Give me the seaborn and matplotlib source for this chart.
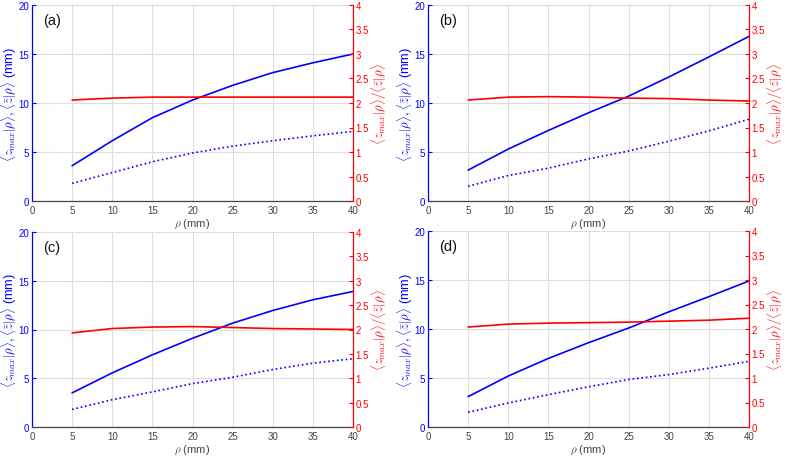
import matplotlib
matplotlib.use("Agg")
import matplotlib.pyplot as plt
import seaborn as sns
import pandas as pd

rho = [5, 10, 15, 20, 25, 30, 35, 40]
panel_labels = ["(a)", "(b)", "(c)", "(d)"]

zmax_a = [3.6, 6.15, 8.5, 10.3, 11.8, 13.1, 14.1, 15.0]
zbar_a = [1.8, 2.9, 4.0, 4.9, 5.6, 6.15, 6.65, 7.1]
ratio_a = [2.06, 2.10, 2.12, 2.12, 2.12, 2.12, 2.12, 2.12]

zmax_b = [3.15, 5.3, 7.2, 9.0, 10.7, 12.65, 14.7, 16.8]
zbar_b = [1.5, 2.6, 3.35, 4.3, 5.1, 6.1, 7.15, 8.35]
ratio_b = [2.06, 2.12, 2.13, 2.12, 2.10, 2.09, 2.06, 2.04]

zmax_c = [3.5, 5.55, 7.4, 9.1, 10.65, 11.95, 13.05, 13.9]
zbar_c = [1.8, 2.8, 3.6, 4.45, 5.1, 5.9, 6.55, 7.0]
ratio_c = [1.93, 2.02, 2.05, 2.06, 2.04, 2.02, 2.01, 2.0]

zmax_d = [3.1, 5.2, 7.0, 8.6, 10.1, 11.75, 13.3, 14.9]
zbar_d = [1.5, 2.45, 3.3, 4.1, 4.85, 5.35, 6.0, 6.7]
ratio_d = [2.04, 2.10, 2.12, 2.13, 2.14, 2.16, 2.18, 2.22]

x_ticks = [0, 5, 10, 15, 20, 25, 30, 35, 40]
left_ticks = [0, 5, 10, 15, 20]
right_ticks = [0, 0.5, 1, 1.5, 2, 2.5, 3, 3.5, 4]
right_ticklabels = ["0", "0.5", "1", "1.5", "2", "2.5", "3", "3.5", "4"]

sns.set_style("white")
plt.rcParams['font.family'] = ['Liberation Sans', 'DejaVu Sans']
plt.rcParams['mathtext.fontset'] = 'cm'

BLUE = "#0000ff"
RED = "#ff0000"
GRAY = "#444444"

fig = plt.figure(figsize=(7.85, 4.6), dpi=100)

positions = [
    (32 / 785, 1 - 202 / 460, 321 / 785, 196 / 460),
    (428 / 785, 1 - 202 / 460, 321 / 785, 196 / 460),
    (32 / 785, 1 - 428 / 460, 321 / 785, 195 / 460),
    (428 / 785, 1 - 428 / 460, 321 / 785, 196 / 460),
]
data = [
    (zmax_a, zbar_a, ratio_a),
    (zmax_b, zbar_b, ratio_b),
    (zmax_c, zbar_c, ratio_c),
    (zmax_d, zbar_d, ratio_d),
]

for pos, (zmax, zbar, ratio), lab in zip(positions, data, panel_labels):
    ax = fig.add_axes(pos)
    df = pd.DataFrame({"rho": rho, "zmax": zmax, "zbar": zbar, "ratio": ratio})
    sns.lineplot(data=df, x="rho", y="zmax", ax=ax, color=BLUE, lw=1.2)
    sns.lineplot(data=df, x="rho", y="zbar", ax=ax, color=BLUE, lw=1.2, linestyle=":")
    ax.set_xlim(0, 40)
    ax.set_ylim(0, 20)
    ax.set_xticks(x_ticks)
    ax.set_yticks(left_ticks)
    ax.grid(True, color="#dddddd", lw=0.8)
    ax.set_axisbelow(True)
    ax.tick_params(axis="x", direction="in", length=3, colors=GRAY, labelsize=7, pad=3)
    ax.tick_params(axis="y", direction="in", length=3, colors=BLUE, labelsize=7, pad=2)
    ax.spines["left"].set_color(BLUE)
    ax.spines["bottom"].set_color(GRAY)
    ax.spines["top"].set_visible(False)
    ax.spines["right"].set_visible(False)
    for s in ax.spines.values():
        s.set_linewidth(0.9)
    ax.set_xlabel(r"$\rho$ (mm)", fontsize=8, color=GRAY, labelpad=1)
    ax.set_ylabel(r"$\langle z_{max}|\rho\rangle, \langle\bar{z}|\rho\rangle$ (mm)",
                  fontsize=9.2, color=BLUE)
    ax.yaxis.set_label_coords(-0.040, 0.5)
    ax.text(0.035, 0.96, lab, transform=ax.transAxes, fontsize=10.5,
            va="top", ha="left", color="#111111")

    ax2 = ax.twinx()
    sns.lineplot(data=df, x="rho", y="ratio", ax=ax2, color=RED, lw=1.2)
    ax2.set_ylim(0, 4)
    ax2.set_yticks(right_ticks)
    ax2.set_yticklabels(right_ticklabels)
    ax2.tick_params(axis="y", direction="in", length=3, colors=RED, labelsize=7, pad=2)
    ax2.spines["right"].set_color(RED)
    ax2.spines["right"].set_linewidth(0.9)
    for side in ["left", "top", "bottom"]:
        ax2.spines[side].set_visible(False)
    ax2.set_ylabel(r"$\langle z_{max}|\rho\rangle/\langle\bar{z}|\rho\rangle$",
                   fontsize=9.2, color=RED)
    ax2.yaxis.set_label_coords(1.05, 0.5)
    ax2.grid(False)

fig.savefig("out.png", dpi=100)
